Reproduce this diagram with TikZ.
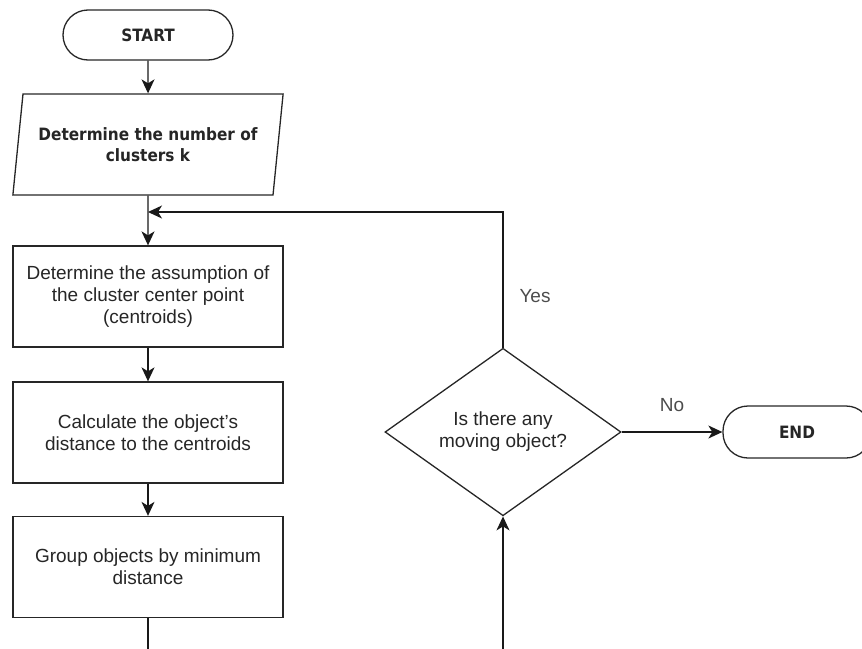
\documentclass[tikz,border=0pt]{standalone}
\usepackage{fontspec}
\setmainfont{Liberation Sans}
\newfontfamily\boldfam{DejaVu Sans Condensed}
\usetikzlibrary{shapes.geometric,arrows.meta}
\begin{document}
\begin{tikzpicture}[x=1pt,y=-1pt,
  base/.style={draw=black!85, line width=1.3pt, align=center, inner sep=0pt, text=black!85},
  regtext/.style={font=\fontsize{19pt}{22pt}\selectfont},
  boldtext/.style={font=\boldfam\bfseries\fontsize{17pt}{21pt}\selectfont},
  terminal/.style={base, boldtext, rectangle, rounded corners=25pt, minimum height=50pt},
  iobox/.style={base, boldtext, trapezium, trapezium left angle=73.5, trapezium right angle=106.5,
    trapezium stretches=true, minimum width=270pt, minimum height=101pt},
  procbox/.style={base, regtext, rectangle, minimum width=270pt, minimum height=101pt},
  decision/.style={base, regtext, diamond, minimum width=236pt, minimum height=167pt},
  conn/.style={draw=black!90, line width=1.3pt},
  arr/.style={conn, -{Stealth[length=14pt,width=13pt,inset=4pt]}},
  lbl/.style={regtext, text=black!70, inner sep=0pt}
]
\useasboundingbox (0,0) rectangle (862,648);

\node[terminal, minimum width=170pt] (start) at (148,35) {START};
\node[iobox] (para) at (148,144.5) {\raisebox{-3pt}{\parbox{250pt}{\centering Determine the number of\\clusters k}}};
\node[procbox] (r1) at (148,296.5) {Determine the assumption of\\the cluster center point\\(centroids)};
\node[procbox] (r2) at (148,432.5) {Calculate the object's\\distance to the centroids};
\node[procbox] (r3) at (148,567) {Group objects by minimum\\distance};
\node[decision] (dec) at (503,432) {Is there any\\moving object?};
\node[terminal, minimum width=148pt, minimum height=52pt] (end) at (797,432) {END};

\coordinate (j) at (148,212);
\coordinate (b1) at (148,652);
\coordinate (b2) at (503,652);

\draw[arr] (start.south) -- (para.north);
\draw[arr] (para.south) -- (r1.north);
\draw[arr] (r1.south) -- (r2.north);
\draw[arr] (r2.south) -- (r3.north);
\draw[conn] (r3.south) -- (b1);
\draw[arr] (b2) -- (dec.south);
\draw[arr] (dec.north) |- (j);
\draw[arr] (dec.east) -- (end.west);

\node[lbl] (yes) at (535,296) {Yes};
\node[lbl] (no) at (672,405) {No};
\end{tikzpicture}
\end{document}
